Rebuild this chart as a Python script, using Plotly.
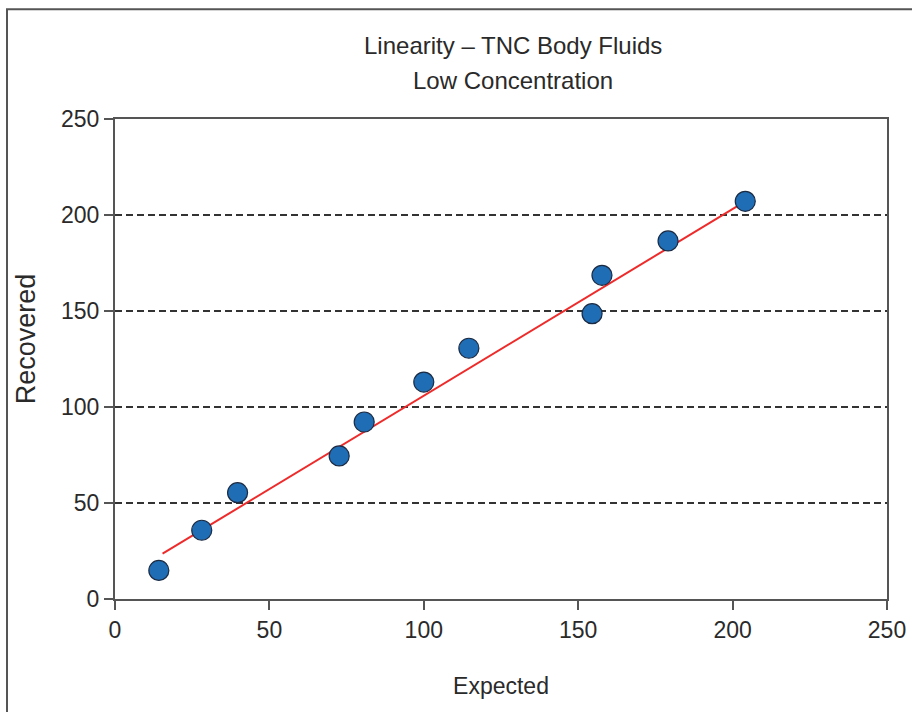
import plotly.graph_objects as go

# Data
expected = [14.2, 28.1, 39.7, 72.6, 80.7, 100.0, 114.6, 154.5, 157.7, 179.1, 204.1]
recovered = [14.9, 35.8, 55.4, 74.5, 92.2, 113.0, 130.6, 148.6, 168.6, 186.5, 207.1]
fit_x = [15.4, 204.1]
fit_y = [23.6, 207.1]
tick_vals = [0, 50, 100, 150, 200, 250]
tick_text = ["0", "50", "100", "150", "200", "250"]

title_lines = ["Linearity – TNC Body Fluids", "Low Concentration"]
x_title = "Expected"
y_title = "Recovered"

FONT = "Liberation Sans, Arial, sans-serif"
TXT = "#2a2a2a"

fig = go.Figure()
fig.add_trace(go.Scatter(
    x=fit_x, y=fit_y, mode="lines",
    line=dict(color="#ee2b2b", width=2),
    showlegend=False, hoverinfo="skip",
))
fig.add_trace(go.Scatter(
    x=expected, y=recovered, mode="markers",
    marker=dict(size=20, color="#1f6db5", line=dict(color="#1b2b44", width=1.2)),
    showlegend=False,
))

axis_common = dict(
    range=[0, 250], tickvals=tick_vals, ticktext=tick_text,
    showline=True, linecolor="#555555", linewidth=2, mirror=True,
    ticks="outside", ticklen=9, tickwidth=2, tickcolor="#555555",
    zeroline=False, automargin=False,
    tickfont=dict(family=FONT, size=23, color=TXT),
)

fig.update_xaxes(
    **axis_common, showgrid=False,
    title=dict(text=x_title, standoff=36, font=dict(family=FONT, size=23, color=TXT)),
)
fig.update_yaxes(
    **axis_common, showgrid=True, gridcolor="#333333", gridwidth=1.5, griddash="7px,4px",
)

# plot area in pixels: x 115..887, y 118.7..598.7
def py(p):
    return (598.7 - p) / 480.0

def px(p):
    return (p - 115.0) / 772.0

annotations = [
    dict(text=title_lines[0], x=px(513), y=py(45), xref="paper", yref="paper",
         xanchor="center", yanchor="middle", showarrow=False,
         font=dict(family=FONT, size=24, color=TXT)),
    dict(text=title_lines[1], x=px(513), y=py(80), xref="paper", yref="paper",
         xanchor="center", yanchor="middle", showarrow=False,
         font=dict(family=FONT, size=24, color=TXT)),
    dict(text=y_title, x=px(26), y=py(339), xref="paper", yref="paper",
         xanchor="center", yanchor="middle", showarrow=False, textangle=-90,
         font=dict(family=FONT, size=27, color=TXT)),
]

# outer frame (left and top edges visible in the picture)
fig.add_shape(type="rect", xref="paper", yref="paper",
              x0=px(7), x1=px(960), y0=py(760), y1=py(9),
              line=dict(color="#555555", width=2), fillcolor="rgba(0,0,0,0)", layer="below")

fig.update_layout(
    width=912, height=712,
    margin=dict(l=115, r=25, t=119, b=113),
    paper_bgcolor="white", plot_bgcolor="white",
    annotations=annotations,
)

fig.write_html("out.html")
